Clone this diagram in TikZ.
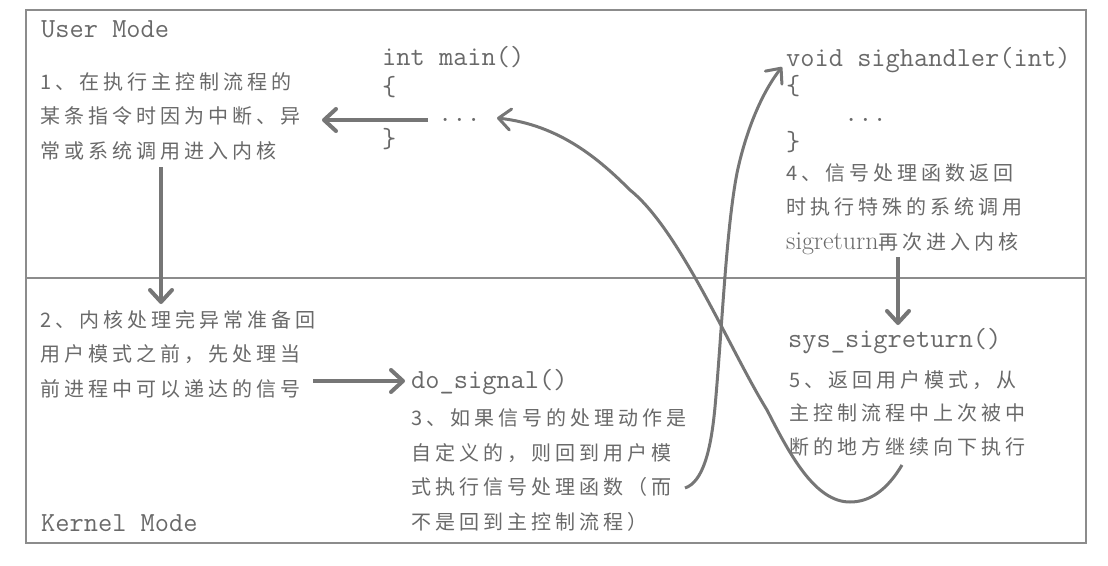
\documentclass[tikz,border=0pt]{standalone}
\usepackage{fontspec}
\newfontfamily\cjk[LetterSpace=20]{Noto Sans CJK SC}
\usetikzlibrary{arrows.meta}
\definecolor{txt}{RGB}{105,105,105}
\definecolor{ln}{RGB}{118,118,118}
\definecolor{bd}{RGB}{140,140,140}
\tikzset{
  cn/.style={font=\cjk\fontsize{20}{34.5}\selectfont, text=txt, anchor=base west, inner sep=0pt, align=left},
  code/.style={font=\fontsize{27.6}{30}\selectfont\ttfamily, text=txt, anchor=base west, inner sep=0pt},
  arr/.style={draw=ln, line width=4pt, -{Straight Barb[length=12pt,width=22pt,round]}},
  carr/.style={draw=ln, line width=3pt, -{Straight Barb[length=12pt,width=21pt,round]}},
  frame/.style={draw=bd, line width=2.5pt},
}
\begin{document}
\begin{tikzpicture}[x=1pt,y=-1pt]
\useasboundingbox (0,0) rectangle (1108,565);
% frame
\draw[frame] (26,10) rectangle (1086,543);
\draw[frame] (26,278) -- (1086,278);

% mode labels
\node[code] (user) at (41,37) {User Mode};
\node[code] (kernel) at (41,531) {Kernel Mode};

% main
\node[code] (main) at (382,65) {int main()};
\node[code] (mainob) at (382,95) {\{};
\node[code] (maindots) at (438,121.6) {...};
\node[code] (maincb) at (382,147) {\}};

% handler
\node[code] (handler) at (786,66) {void sighandler(int)};
\node[code] (hob) at (786,94) {\{};
\node[code] (hdots) at (844,121.6) {...};
\node[code] (hcb) at (786,150) {\}};

\node[code] (dosig) at (411,388) {do\_signal()};
\node[code] (sysret) at (788,347) {sys\_sigreturn()};

% text blocks (positioned at the baseline of their last line)
\node[cn] (t1) at (40,158) {1、在执行主控制流程的\\某条指令时因为中断、异\\常或系统调用进入内核};
\node[cn] (t2) at (40,396) {2、内核处理完异常准备回\\用户模式之前，先处理当\\前进程中可以递达的信号};
\node[cn] (t3) at (411,529) {3、如果信号的处理动作是\\自定义的，则回到用户模\\式执行信号处理函数（而\\不是回到主控制流程）};
\node[cn] (t4) at (786,249) {4、信号处理函数返回\\时执行特殊的系统调用\\{\rmfamily\fontsize{26}{34.5}\selectfont sigreturn}再次进入内核};
\node[cn] (t5) at (789,454) {5、返回用户模式，从\\[-1pt]主控制流程中上次被中\\[-1pt]断的地方继续向下执行};

% connector end points
\coordinate (a1s) at (428,120);
\coordinate (a1e) at (322,120);
\coordinate (a2s) at (161,167);
\coordinate (a2e) at (161,304);
\coordinate (a3s) at (313,381);
\coordinate (a3e) at (405,381);
\coordinate (a4s) at (898,257);
\coordinate (a4e) at (898,325);
\coordinate (cAs) at (685,488);
\coordinate (cAe) at (782,67);
\coordinate (cBs) at (902,465);
\coordinate (cBe) at (497,118);

\draw[arr] (a1s) -- (a1e);
\draw[arr] (a2s) -- (a2e);
\draw[arr] (a3s) -- (a3e);
\draw[arr] (a4s) -- (a4e);

\draw[carr] (cAs) .. controls (703,482) and (711,450) .. (715,407)
  .. controls (722,330) and (726,230) .. (737,173)
  .. controls (745,135) and (760,95) .. (cAe);

\draw[carr] (cBs) .. controls (887,490) and (870,502) .. (850,502)
  .. controls (815,502) and (790,455) .. (767,410)
  .. controls (730,350) and (680,230) .. (630,190)
  .. controls (600,160) and (560,125) .. (cBe);
\end{tikzpicture}
\end{document}
